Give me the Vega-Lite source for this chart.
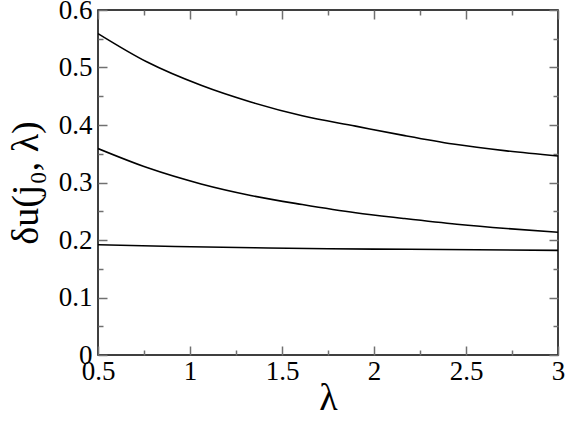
{
  "$schema": "https://vega.github.io/schema/vega-lite/v6.json",
  "width": 460,
  "height": 345,
  "autosize": "none",
  "padding": {"left": 98, "top": 10, "right": 9, "bottom": 68},
  "background": "white",
  "config": {
    "font": "Times New Roman, Liberation Serif, serif",
    "view": {"stroke": "black", "strokeWidth": 1.5},
    "axis": {"grid": false, "domain": false, "ticks": true, "tickColor": "#707070", "tickWidth": 1.5, "labelColor": "black", "titleColor": "black", "labelFont": "Times New Roman, Liberation Serif, serif", "titleFont": "Times New Roman, Liberation Serif, serif", "titleFontWeight": "normal"}
  },
  "data": {
    "values": [
      {"lambda": 0.5, "du": 0.559, "curve": "a"},
      {"lambda": 0.77, "du": 0.509, "curve": "a"},
      {"lambda": 1.06, "du": 0.469, "curve": "a"},
      {"lambda": 1.33, "du": 0.440, "curve": "a"},
      {"lambda": 1.61, "du": 0.416, "curve": "a"},
      {"lambda": 1.9, "du": 0.398, "curve": "a"},
      {"lambda": 2.16, "du": 0.382, "curve": "a"},
      {"lambda": 2.43, "du": 0.367, "curve": "a"},
      {"lambda": 2.72, "du": 0.355, "curve": "a"},
      {"lambda": 3.0, "du": 0.346, "curve": "a"},
      {"lambda": 0.5, "du": 0.359, "curve": "b"},
      {"lambda": 0.77, "du": 0.3255, "curve": "b"},
      {"lambda": 1.06, "du": 0.2975, "curve": "b"},
      {"lambda": 1.33, "du": 0.2775, "curve": "b"},
      {"lambda": 1.61, "du": 0.2617, "curve": "b"},
      {"lambda": 1.9, "du": 0.2473, "curve": "b"},
      {"lambda": 2.16, "du": 0.2375, "curve": "b"},
      {"lambda": 2.45, "du": 0.2275, "curve": "b"},
      {"lambda": 2.72, "du": 0.22, "curve": "b"},
      {"lambda": 3.0, "du": 0.2136, "curve": "b"},
      {"lambda": 0.5, "du": 0.1917, "curve": "c"},
      {"lambda": 0.92, "du": 0.1887, "curve": "c"},
      {"lambda": 1.35, "du": 0.1864, "curve": "c"},
      {"lambda": 1.75, "du": 0.1848, "curve": "c"},
      {"lambda": 2.19, "du": 0.1838, "curve": "c"},
      {"lambda": 3.0, "du": 0.182, "curve": "c"}
    ]
  },
  "layer": [
    {
      "mark": {"type": "line", "color": "black", "strokeWidth": 1.6, "interpolate": "monotone", "clip": true},
      "encoding": {
        "x": {
          "field": "lambda", "type": "quantitative",
          "scale": {"domain": [0.5, 3], "nice": false, "zero": false},
          "axis": {
            "orient": "bottom",
            "values": [0.5, 1, 1.5, 2, 2.5, 3],
            "format": "~g",
            "tickSize": -9,
            "labelFontSize": 27,
            "labelPadding": 12,
            "labelFlush": false,
            "labelOverlap": false,
            "title": "λ",
            "titleFontSize": 38,
            "titlePadding": -5
          }
        },
        "y": {
          "field": "du", "type": "quantitative",
          "scale": {"domain": [0, 0.6], "nice": false},
          "axis": {
            "orient": "left",
            "values": [0, 0.1, 0.2, 0.3, 0.4, 0.5, 0.6],
            "format": "~g",
            "tickSize": -9,
            "labelFontSize": 27,
            "labelPadding": 15,
            "labelFlush": false,
            "labelOverlap": false,
            "title": "δu(j₀, λ)",
            "titleFontSize": 38,
            "titlePadding": 13
          }
        },
        "detail": {"field": "curve"}
      }
    },
    {
      "mark": {"type": "line", "strokeOpacity": 0},
      "encoding": {
        "x": {"field": "lambda", "type": "quantitative",
          "axis": {"orient": "bottom", "values": [0.75, 1.25, 1.75, 2.25, 2.75], "labels": false, "tickSize": -5, "title": null}},
        "y": {"field": "du", "type": "quantitative",
          "axis": {"orient": "left", "values": [0.05, 0.15, 0.25, 0.35, 0.45, 0.55], "labels": false, "tickSize": -5, "title": null}},
        "detail": {"field": "curve"}
      }
    },
    {
      "mark": {"type": "line", "strokeOpacity": 0},
      "encoding": {
        "x": {"field": "lambda", "type": "quantitative",
          "axis": {"orient": "top", "values": [0.5, 1, 1.5, 2, 2.5, 3], "labels": false, "tickSize": -9, "title": null}},
        "y": {"field": "du", "type": "quantitative",
          "axis": {"orient": "right", "values": [0, 0.1, 0.2, 0.3, 0.4, 0.5, 0.6], "labels": false, "tickSize": -9, "title": null}},
        "detail": {"field": "curve"}
      }
    },
    {
      "mark": {"type": "line", "strokeOpacity": 0},
      "encoding": {
        "x": {"field": "lambda", "type": "quantitative",
          "axis": {"orient": "top", "values": [0.75, 1.25, 1.75, 2.25, 2.75], "labels": false, "tickSize": -5, "title": null}},
        "y": {"field": "du", "type": "quantitative",
          "axis": {"orient": "right", "values": [0.05, 0.15, 0.25, 0.35, 0.45, 0.55], "labels": false, "tickSize": -5, "title": null}},
        "detail": {"field": "curve"}
      }
    }
  ],
  "resolve": {"axis": {"x": "independent", "y": "independent"}}
}
